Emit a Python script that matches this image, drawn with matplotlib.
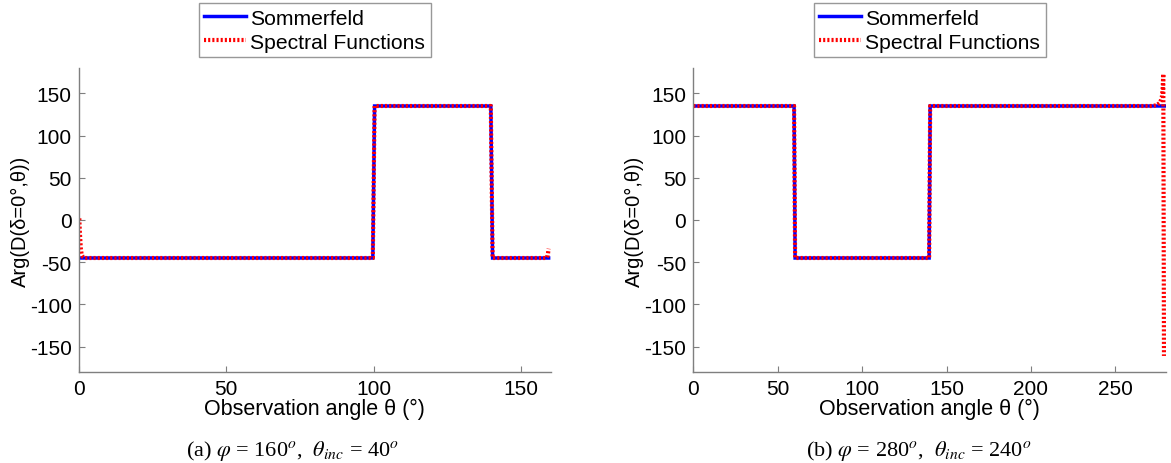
import matplotlib
matplotlib.use("Agg")
import matplotlib.pyplot as plt

plt.rcParams['font.family'] = ['Liberation Sans', 'DejaVu Sans']
plt.rcParams['mathtext.fontset'] = 'stix'
plt.rcParams['axes.unicode_minus'] = False

# ---- data: panel (a) ----
a_theta_som = [0, 99.7, 100.3, 139.7, 140.3, 159.3]
a_val_som = [-45, -45, 135, 135, -45, -45]
a_theta_spec = [0.2, 0.4, 0.7, 1.0, 1.5, 2.0, 99.7, 100.3, 139.7, 140.3, 158.5, 159.0, 159.3]
a_val_spec = [2, -15, -33, -41, -44, -45, -45, 135, 135, -45, -45, -42, -34]

# ---- data: panel (b) ----
b_theta_som = [0, 59.7, 60.3, 139.7, 140.3, 279.5]
b_val_som = [135, 135, -45, -45, 135, 135]
b_theta_spec = [0, 59.7, 60.3, 139.7, 140.3, 272.0, 274.5, 276.5, 277.5, 278.0, 278.4, 278.8]
b_val_spec = [135, 135, -45, -45, 135, 135, 136, 139, 145, 155, 173, -161]

yticks = [-150, -100, -50, 0, 50, 100, 150]
a_xticks = [0, 50, 100, 150]
b_xticks = [0, 50, 100, 150, 200, 250]

ylabel = "Arg(D(\u03b4=0\u00b0,\u03b8))"
xlabel = "Observation angle \u03b8 (\u00b0)"
captions = [r"(a) $\varphi$ = 160$^o$,  $\theta_{inc}$ = 40$^o$",
            r"(b) $\varphi$ = 280$^o$,  $\theta_{inc}$ = 240$^o$"]

W, H = 1171, 464
fig = plt.figure(figsize=(W / 100, H / 100), dpi=100)

axa = fig.add_axes([78.7 / W, 91 / H, 472 / W, 304 / H])
axb = fig.add_axes([693.3 / W, 91 / H, 472.7 / W, 304 / H])

panels = [
    (axa, a_theta_som, a_val_som, a_theta_spec, a_val_spec, 160, a_xticks),
    (axb, b_theta_som, b_val_som, b_theta_spec, b_val_spec, 280, b_xticks),
]

gray = '#7f7f7f'
for ax, ts, vs, tp, vp, xmax, xt in panels:
    ax.plot(ts, vs, color='#0000ff', lw=2.5, label='Sommerfeld', solid_joinstyle='miter')
    ax.plot(tp, vp, color='#ff0000', lw=3, ls=(0, (0.5, 0.5)), label='Spectral Functions')
    ax.set_xlim(0, xmax)
    ax.set_ylim(-180, 180)
    ax.set_xticks(xt)
    ax.set_yticks(yticks)
    for s in ['top', 'right']:
        ax.spines[s].set_visible(False)
    for s in ['left', 'bottom']:
        ax.spines[s].set_color(gray)
        ax.spines[s].set_linewidth(1.0)
    ax.tick_params(direction='in', length=4, color=gray, labelsize=15, pad=5)
    ax.set_xlabel(xlabel, fontsize=15.5, labelpad=0)
    ax.set_ylabel(ylabel, fontsize=14.5)
    ax.yaxis.set_label_coords(-0.104, 0.5)
    leg = ax.legend(loc='lower center', bbox_to_anchor=(0.5, 1.036), borderaxespad=0,
                    fontsize=15.2, frameon=True, fancybox=False, handlelength=2.0,
                    handletextpad=0.2, borderpad=0.25, labelspacing=0.25)
    leg.get_frame().set_edgecolor(gray)
    leg.get_frame().set_linewidth(1.0)

fig.text(293 / W, 1 - 451 / H, captions[0], ha='center', va='center', fontsize=16,
         family='Liberation Serif')
fig.text(919 / W, 1 - 451 / H, captions[1], ha='center', va='center', fontsize=16,
         family='Liberation Serif')

fig.savefig('out.png', dpi=100)
